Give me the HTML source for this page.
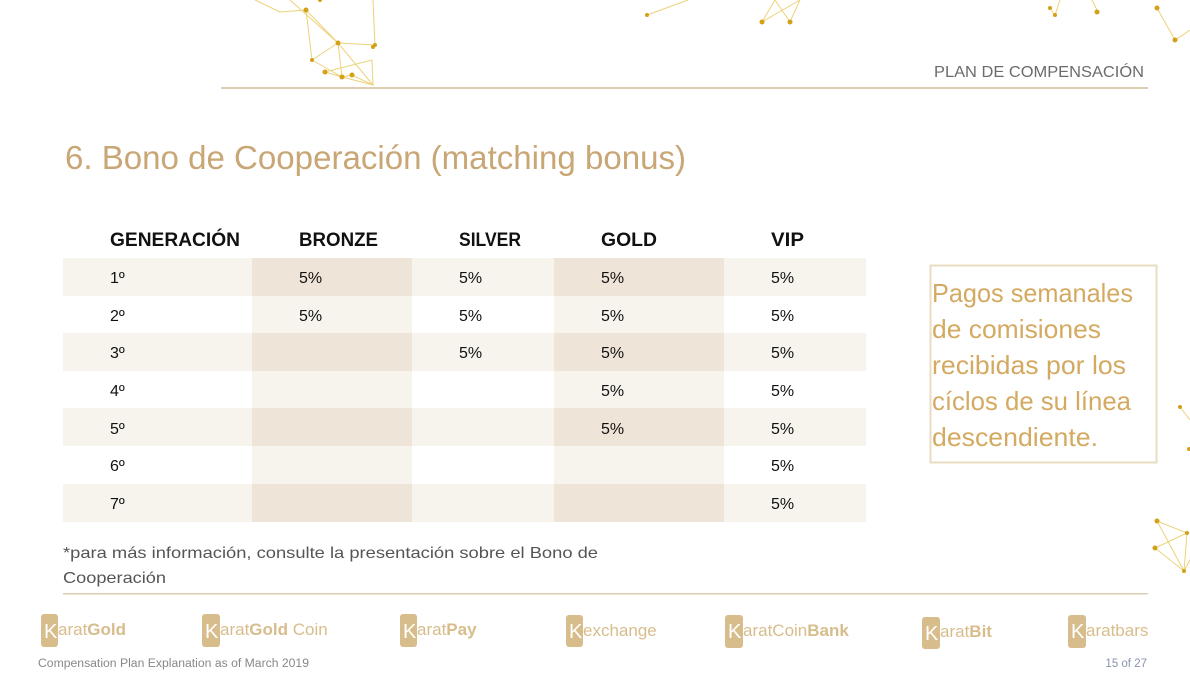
<!DOCTYPE html>
<html><head><meta charset="utf-8"><style>
html,body{margin:0;padding:0;background:#fff;}
svg{display:block;font-family:"Liberation Sans",sans-serif;}
</style></head><body>
<svg width="1190" height="680" viewBox="0 0 1190 680" xmlns="http://www.w3.org/2000/svg">
<g stroke="#ecd27a" stroke-width="1" fill="none">
<polyline points="255,0 280,12 306,10 338,43 375,45 373,0"/>
<polyline points="306,10 312,60 342,77 373,85 338,43 342,77 325,72 372,60 373,85 352,75 342,77"/>
<polyline points="312,60 338,43 290,0"/>
<polyline points="647,15 688,0"/>
<polyline points="762,22 775,0 790,22 800,0 762,22"/>
<polyline points="1050,8 1055,15 1060,0"/>
<polyline points="1097,10 1092,0"/>
<polyline points="1157,8 1175,40 1190,30"/>
<polyline points="1180,407 1190,420"/>
<polyline points="1157,521 1187,533 1155,548 1184,571 1157,521"/>
<polyline points="1187,533 1184,571 1190,560"/>
</g>
<g fill="#d4a017">
<circle cx="306" cy="10" r="2.5"/><circle cx="338" cy="43" r="2.5"/><circle cx="375" cy="45" r="2"/>
<circle cx="312" cy="60" r="2"/><circle cx="342" cy="77" r="2.5"/><circle cx="373" cy="47" r="2"/>
<circle cx="325" cy="72" r="2.5"/><circle cx="352" cy="75" r="2.5"/><circle cx="320" cy="0" r="2"/>
<circle cx="647" cy="15" r="2"/><circle cx="762" cy="22" r="2.5"/><circle cx="790" cy="22" r="2.5"/>
<circle cx="1050" cy="8" r="2"/><circle cx="1055" cy="15" r="2"/><circle cx="1097" cy="12" r="2.5"/>
<circle cx="1157" cy="8" r="2.5"/><circle cx="1175" cy="40" r="2.5"/>
<circle cx="1180" cy="407" r="2"/><circle cx="1189" cy="449" r="2"/>
<circle cx="1157" cy="521" r="2.5"/><circle cx="1187" cy="533" r="2"/><circle cx="1155" cy="548" r="2.5"/><circle cx="1184" cy="571" r="2"/>
</g>
<text x="1144" y="77" text-anchor="end" font-size="16" fill="#6b6b6b" textLength="210" lengthAdjust="spacingAndGlyphs">PLAN DE COMPENSACIÓN</text>
<rect x="221" y="87" width="927" height="2" fill="#dccdb3"/>
<text x="65" y="169" font-size="33" fill="#c9a675" textLength="621" lengthAdjust="spacingAndGlyphs">6. Bono de Cooperación (matching bonus)</text>
<g>
<rect x="63" y="258" width="803" height="38" fill="#f7f3ed"/>
<rect x="63" y="333" width="803" height="38" fill="#f7f3ed"/>
<rect x="63" y="408" width="803" height="38" fill="#f7f3ed"/>
<rect x="63" y="484" width="803" height="38" fill="#f7f3ed"/>
<rect x="252" y="296" width="160" height="37" fill="#f7f3ed"/>
<rect x="252" y="371" width="160" height="37" fill="#f7f3ed"/>
<rect x="252" y="446" width="160" height="38" fill="#f7f3ed"/>
<rect x="554" y="296" width="170" height="37" fill="#f7f3ed"/>
<rect x="554" y="371" width="170" height="37" fill="#f7f3ed"/>
<rect x="554" y="446" width="170" height="38" fill="#f7f3ed"/>
<rect x="252" y="258" width="160" height="38" fill="#efe4d8"/>
<rect x="252" y="333" width="160" height="38" fill="#efe4d8"/>
<rect x="252" y="408" width="160" height="38" fill="#efe4d8"/>
<rect x="252" y="484" width="160" height="38" fill="#efe4d8"/>
<rect x="554" y="258" width="170" height="38" fill="#efe4d8"/>
<rect x="554" y="333" width="170" height="38" fill="#efe4d8"/>
<rect x="554" y="408" width="170" height="38" fill="#efe4d8"/>
<rect x="554" y="484" width="170" height="38" fill="#efe4d8"/>
</g>
<g font-size="19" font-weight="bold" fill="#111">
<text x="110" y="246" textLength="130" lengthAdjust="spacingAndGlyphs">GENERACIÓN</text>
<text x="299" y="246" textLength="79" lengthAdjust="spacingAndGlyphs">BRONZE</text>
<text x="459" y="246" textLength="62" lengthAdjust="spacingAndGlyphs">SILVER</text>
<text x="601" y="246" textLength="56" lengthAdjust="spacingAndGlyphs">GOLD</text>
<text x="771" y="246" textLength="33" lengthAdjust="spacingAndGlyphs">VIP</text>
</g>
<g font-size="16" fill="#111">
<text x="110" y="283">1º</text><text x="110" y="321">2º</text><text x="110" y="358">3º</text><text x="110" y="396">4º</text><text x="110" y="434">5º</text><text x="110" y="471">6º</text><text x="110" y="509">7º</text>
<text x="299" y="283">5%</text><text x="299" y="321">5%</text>
<text x="459" y="283">5%</text><text x="459" y="321">5%</text><text x="459" y="358">5%</text>
<text x="601" y="283">5%</text><text x="601" y="321">5%</text><text x="601" y="358">5%</text><text x="601" y="396">5%</text><text x="601" y="434">5%</text>
<text x="771" y="283">5%</text><text x="771" y="321">5%</text><text x="771" y="358">5%</text><text x="771" y="396">5%</text><text x="771" y="434">5%</text><text x="771" y="471">5%</text><text x="771" y="509">5%</text>
</g>
<rect x="930.5" y="265.5" width="226" height="197" fill="none" stroke="#eadcc0" stroke-width="2"/>
<g font-size="26" fill="#d4aa62">
<text x="932" y="302" textLength="201" lengthAdjust="spacingAndGlyphs">Pagos semanales</text>
<text x="932" y="338" textLength="169" lengthAdjust="spacingAndGlyphs">de comisiones</text>
<text x="932" y="374" textLength="194" lengthAdjust="spacingAndGlyphs">recibidas por los</text>
<text x="932" y="410" textLength="199" lengthAdjust="spacingAndGlyphs">cíclos de su línea</text>
<text x="932" y="446" textLength="166" lengthAdjust="spacingAndGlyphs">descendiente.</text>
</g>
<g font-size="16" fill="#555">
<text x="63" y="558" textLength="535" lengthAdjust="spacingAndGlyphs">*para más información, consulte la presentación sobre el Bono de</text>
<text x="63" y="583" textLength="103" lengthAdjust="spacingAndGlyphs">Cooperación</text>
</g>
<rect x="63" y="593" width="1085" height="1.5" fill="#dccdb3"/>
<g font-size="17" fill="#d8bd8c">
<rect x="41" y="614" width="17" height="33" rx="3" fill="#d8bd8c"/><text x="44" y="638" fill="#fff" font-size="20">K</text>
<text x="58" y="635"><tspan>arat</tspan><tspan font-weight="bold">Gold</tspan></text>
<rect x="202" y="614" width="18" height="33" rx="3" fill="#d8bd8c"/><text x="205" y="638" fill="#fff" font-size="20">K</text>
<text x="220" y="635"><tspan>arat</tspan><tspan font-weight="bold">Gold</tspan><tspan> Coin</tspan></text>
<rect x="400" y="614" width="17" height="33" rx="3" fill="#d8bd8c"/><text x="403" y="638" fill="#fff" font-size="20">K</text>
<text x="417" y="635"><tspan>arat</tspan><tspan font-weight="bold">Pay</tspan></text>
<rect x="566" y="615" width="17" height="32" rx="3" fill="#d8bd8c"/><text x="569" y="638" fill="#fff" font-size="20">K</text>
<text x="583" y="636">exchange</text>
<rect x="725" y="615" width="18" height="33" rx="3" fill="#d8bd8c"/><text x="728" y="638" fill="#fff" font-size="20">K</text>
<text x="743" y="636"><tspan>aratCoin</tspan><tspan font-weight="bold">Bank</tspan></text>
<rect x="922" y="617" width="18" height="32" rx="3" fill="#d8bd8c"/><text x="925" y="640" fill="#fff" font-size="20">K</text>
<text x="940" y="637"><tspan>arat</tspan><tspan font-weight="bold">Bit</tspan></text>
<rect x="1068" y="615" width="18" height="33" rx="3" fill="#d8bd8c"/><text x="1071" y="638" fill="#fff" font-size="20">K</text>
<text x="1086" y="636">aratbars</text>
</g>
<text x="38" y="667" font-size="11.5" fill="#888" textLength="271" lengthAdjust="spacingAndGlyphs">Compensation Plan Explanation as of March 2019</text>
<text x="1147" y="667" font-size="11.5" fill="#8a93b0" text-anchor="end">15 of 27</text>
</svg>
</body></html>
